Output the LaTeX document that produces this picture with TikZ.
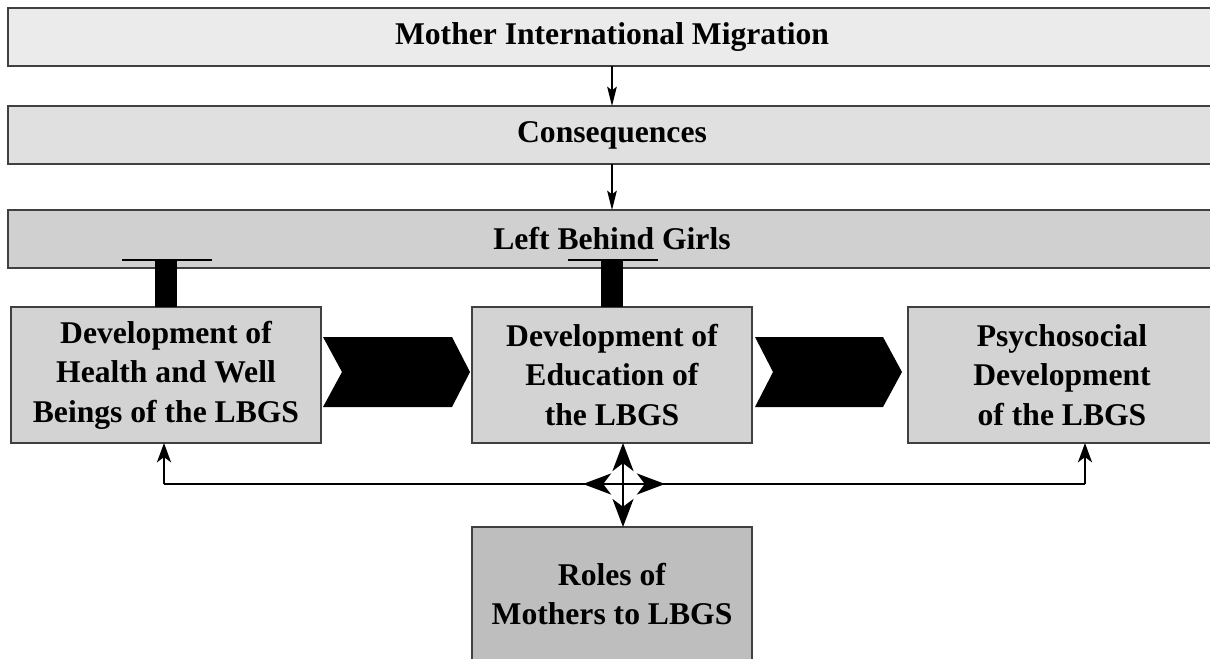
\documentclass[tikz,border=0pt]{standalone}
\usepackage{fontspec}
\setmainfont{Liberation Serif}
\usetikzlibrary{arrows.meta}
\definecolor{boxA}{HTML}{EBEBEB}
\definecolor{boxB}{HTML}{E0E0E0}
\definecolor{boxC}{HTML}{D0D0D0}
\definecolor{boxD}{HTML}{D3D3D3}
\definecolor{boxE}{HTML}{BEBEBE}
\begin{document}
\begin{tikzpicture}[x=0.02cm, y=-0.02cm]
\tikzset{ >={Stealth[length=11pt,width=5.5pt,inset=2pt]}, inner sep=0pt, outer sep=0pt,
  band/.style={draw=black!75, line width=0.8pt, minimum width=24.16cm, minimum height=1.16cm,
    font=\bfseries\fontsize{18}{22.5}\selectfont},
  block/.style={draw=black!75, line width=0.8pt, minimum height=2.72cm, align=center,
    font=\bfseries\fontsize{18}{22.5}\selectfont},
  bigtip/.style={>={Stealth[length=16pt,width=12pt,inset=4.5pt]}},
  midtip/.style={>={Stealth[length=11pt,width=8pt,inset=3pt]}},
}

\useasboundingbox (0,0) rectangle (1210,659);
\clip (0,0) rectangle (1210,659);
%\draw [lightgray, dashed](0,0) grid [step=50] (1210,659);

\node [band, fill=boxA] (mim)  at (612,37)  {Mother International Migration};
\node [band, fill=boxB] (cons) at (612,135) {Consequences};
\node [band, fill=boxC] (lbg)  at (612,239) {Left Behind Girls};

\node [block, fill=boxD, minimum width=6.2cm]  (hw)  at (166,375) {Development of\\Health and Well\\Beings of the LBGS};
\node [block, fill=boxD, minimum width=5.6cm]  (edu) at (612,375) {Development of\\Education of\\the LBGS};
\node [block, fill=boxD, minimum width=6.16cm] (psy) at (1062,375) {Psychosocial\\Development\\of the LBGS};
\node [block, fill=boxE, minimum width=5.6cm, minimum height=2.68cm] (roles) at (612,594) {Roles of\\Mothers to LBGS};

\draw [->, line width=0.8pt] (mim) -- (cons);
\draw [->, line width=0.8pt] (cons) -- (lbg);

% bars up to the girls band
\draw [line width=12pt] (hw.north) -- ++(0,-47);
\draw [line width=0.8pt] (hw.north) ++(-44,-47) -- ++(90,0);
\draw [line width=12pt] (edu.north) -- ++(0,-47);
\draw [line width=0.8pt] (edu.north) ++(-44,-47) -- ++(90,0);

% chevrons
\fill (323,337) -- (452,337) -- (470,372) -- (452,407) -- (323,407) -- (342,372) -- cycle;
\fill (755,337) -- (883,337) -- (902,372) -- (883,407) -- (755,407) -- (773,372) -- cycle;

\coordinate (hub) at (623,484);
\coordinate (hwend) at (164,484);
\coordinate (psyend) at (1085,484);

\draw [line width=1.6pt] (hwend) -- (psyend);
\draw [->, midtip, line width=1.3pt] (hwend) -- (hwend |- hw.south);
\draw [->, midtip, line width=1.3pt] (psyend) -- (psyend |- psy.south);

\draw [<->, bigtip, line width=1.2pt] (hub |- edu.south) -- (hub |- roles.north);
\draw [<->, bigtip, line width=1.2pt] (583,484) -- (665,484);
\end{tikzpicture}
\end{document}
